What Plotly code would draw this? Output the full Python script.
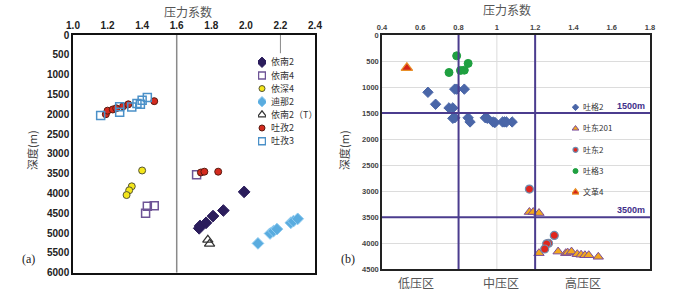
import plotly.graph_objects as go

W, H = 700, 292

# ---------------- Panel (a) data ----------------
yn2_x = [1.73, 1.735, 1.77, 1.81, 1.87, 1.99]
yn2_y = [4880, 4820, 4740, 4570, 4430, 3960]
yn4_x = [1.42, 1.43, 1.47, 1.715]
yn4_y = [4500, 4320, 4310, 3530]
ys4_x = [1.40, 1.34, 1.325, 1.31]
ys4_y = [3420, 3820, 3920, 4040]
dn2_x = [2.07, 2.14, 2.16, 2.18, 2.26, 2.275, 2.30]
dn2_y = [5260, 5010, 4950, 4900, 4740, 4700, 4640]
yn2t_x = [1.78, 1.79]
yn2t_y = [5170, 5270]
tz2_x = [1.19, 1.20, 1.23, 1.25, 1.29, 1.32, 1.47, 1.74, 1.76, 1.84]
tz2_y = [2000, 1910, 1880, 1850, 1800, 1750, 1670, 3470, 3450, 3450]
tz3_x = [1.16, 1.27, 1.27, 1.34, 1.37, 1.39, 1.40, 1.43]
tz3_y = [2030, 1950, 1810, 1820, 1730, 1750, 1650, 1580]

# ---------------- Panel (b) data ----------------
tg2_x = [0.64, 0.68, 0.75, 0.77, 0.78, 0.79, 0.83, 0.77, 0.78, 0.85, 0.86,
         0.94, 0.95, 0.98, 0.99, 1.03, 1.04, 1.05, 1.08]
tg2_y = [1100, 1330, 1400, 1400, 1040, 1040, 1040, 1600, 1590, 1590, 1670,
         1590, 1600, 1670, 1680, 1670, 1670, 1670, 1670]
td201_x = [1.17, 1.19, 1.22, 1.22, 1.32, 1.36, 1.37, 1.39, 1.42, 1.44, 1.46, 1.48, 1.53]
td201_y = [3400, 3400, 3420, 4190, 4160, 4190, 4180, 4160, 4210, 4220, 4230, 4230, 4260]
td2_x = [1.17, 1.30, 1.27, 1.26, 1.25]
td2_y = [2960, 3850, 4000, 4010, 4110]
tg3_x = [0.79, 0.85, 0.75, 0.81, 0.83]
tg3_y = [400, 545, 720, 680, 675]
wg4_x = [0.53]
wg4_y = [630]

# tick labels / reference lines
a_xticks = [1.0, 1.2, 1.4, 1.6, 1.8, 2.0, 2.2, 2.4]
a_yticks = list(range(0, 6001, 500))
b_xticks = [0.4, 0.6, 0.8, 1.0, 1.2, 1.4, 1.6, 1.8]
b_xticklabels = ["0.4", "0.6", "0.8", "1", "1.2", "1.4", "1.6", "1.8"]
b_yticks = list(range(0, 4501, 500))
b_vlines = [0.8, 1.2]
b_hlines = [1500, 3500]
b_hline_labels = ["1500m", "3500m"]
zones = ["低压区", "中压区", "高压区"]
zone_x = [0.58, 1.02, 1.45]

a_names = ["依南2", "依南4", "依深4", "迪那2", "依南2（T）", "吐孜2", "吐孜3"]
b_names = ["吐格2", "吐东201", "吐东2", "吐格3", "文革4"]

# styles
a_styles = [
    dict(symbol="diamond", size=9, color="#2b1d5c", line=dict(color="#2b1d5c", width=1)),
    dict(symbol="square-open", size=8, color="#6e5496", line=dict(width=1.5)),
    dict(symbol="circle", size=7, color="#f4e61a", line=dict(color="#555533", width=1)),
    dict(symbol="diamond", size=9, color="#5aacdf", line=dict(color="#8ccaf0", width=1)),
    dict(symbol="triangle-up-open", size=9, color="#333333", line=dict(width=1.2)),
    dict(symbol="circle", size=7, color="#d42a1e", line=dict(color="#5a1a10", width=1)),
    dict(symbol="square-open", size=8, color="#4a90c8", line=dict(width=1.5)),
]
a_data = [(yn2_x, yn2_y), (yn4_x, yn4_y), (ys4_x, ys4_y), (dn2_x, dn2_y),
          (yn2t_x, yn2t_y), (tz2_x, tz2_y), (tz3_x, tz3_y)]

b_styles = [
    dict(symbol="diamond", size=8, color="#4a66a8", line=dict(color="#4a66a8", width=1)),
    dict(symbol="triangle-up", size=9, color="#f2a81e", line=dict(color="#7a4c9a", width=1)),
    dict(symbol="circle", size=8, color="#e0261e", line=dict(color="#6f8fb0", width=1.2)),
    dict(symbol="circle", size=8, color="#1fa040", line=dict(color="#1fa040", width=1)),
    dict(symbol="triangle-up", size=10, color="#d62418", line=dict(color="#e8902a", width=1.2)),
]
b_data = [(tg2_x, tg2_y), (td201_x, td201_y), (td2_x, td2_y), (tg3_x, tg3_y), (wg4_x, wg4_y)]

fig = go.Figure()

for name, (xs, ys), st in zip(a_names, a_data, a_styles):
    fig.add_trace(go.Scatter(x=xs, y=ys, mode="markers", name=name, marker=st,
                             xaxis="x", yaxis="y", showlegend=False))
for name, (xs, ys), st in zip(b_names, b_data, b_styles):
    fig.add_trace(go.Scatter(x=xs, y=ys, mode="markers", name=name, marker=st,
                             xaxis="x2", yaxis="y2", showlegend=False))

# legend keys drawn on small categorical axes
for name, st in zip(a_names, a_styles):
    st2 = dict(st)
    st2["size"] = st["size"] - 1
    fig.add_trace(go.Scatter(x=[0], y=[name], mode="markers", marker=st2,
                             xaxis="x3", yaxis="y3", showlegend=False, hoverinfo="skip"))
for name, st in zip(b_names, b_styles):
    st2 = dict(st)
    st2["size"] = max(st["size"] - 3, 5)
    fig.add_trace(go.Scatter(x=[0], y=[name], mode="markers", marker=st2,
                             xaxis="x4", yaxis="y4", showlegend=False, hoverinfo="skip"))

def px_x(p):
    return p / W

def px_y(p):
    return 1 - p / H

num_font_a = dict(family="Liberation Sans", size=10, color="#222222", weight="bold")
num_font_b = dict(family="Liberation Sans", size=7.5, color="#444444", weight="bold")
cjk = "Noto Sans CJK SC"

fig.update_layout(
    width=W, height=H,
    margin=dict(l=0, r=0, t=0, b=0, autoexpand=False),
    paper_bgcolor="white", plot_bgcolor="white",
    showlegend=False,
    xaxis=dict(domain=[px_x(73), px_x(315)], range=[1.0, 2.4], side="top",
               tickvals=a_xticks, tickformat=".1f", tickfont=num_font_a,
               showgrid=False, zeroline=False, showline=True, linecolor="#111111",
               linewidth=1.5, mirror=True, ticks="", anchor="y", automargin=False),
    yaxis=dict(domain=[px_y(272.7), px_y(35)], range=[6000, 0],
               tickvals=a_yticks, tickfont=num_font_a,
               showgrid=False, zeroline=False, showline=True, linecolor="#111111",
               linewidth=1.5, mirror=True, ticks="", anchor="x", automargin=False),
    xaxis2=dict(domain=[px_x(382), px_x(650)], range=[0.4, 1.8], side="top",
                tickvals=b_xticks, ticktext=b_xticklabels, tickfont=num_font_b,
                showgrid=False, zeroline=False, showline=True, linecolor="#222222",
                linewidth=1.5, mirror=True, ticks="", anchor="y2", automargin=False),
    yaxis2=dict(domain=[px_y(269.3), px_y(35)], range=[4500, 0],
                tickvals=b_yticks, tickfont=num_font_b,
                showgrid=True, gridcolor="#dcdcdc", gridwidth=1,
                zeroline=False, showline=True, linecolor="#222222",
                linewidth=1.5, mirror=True, ticks="", anchor="x2", automargin=False),
    xaxis3=dict(domain=[px_x(258), px_x(266)], range=[-1, 1], visible=False,
                anchor="y3", automargin=False),
    yaxis3=dict(domain=[px_y(147.7), px_y(55.7)], type="category",
                categoryorder="array", categoryarray=a_names, range=[6.5, -0.5],
                side="right", showgrid=False, zeroline=False, showline=False, ticks="",
                ticklabelstandoff=4,
                tickfont=dict(family=cjk, size=9, color="#333333"), anchor="x3",
                automargin=False),
    xaxis4=dict(domain=[px_x(572), px_x(579)], range=[-1, 1], visible=False,
                anchor="y4", automargin=False),
    yaxis4=dict(domain=[px_y(202.9), px_y(96.7)], type="category",
                categoryorder="array", categoryarray=b_names, range=[4.5, -0.5],
                side="right", showgrid=False, zeroline=False, showline=False, ticks="",
                ticklabelstandoff=3,
                tickfont=dict(family=cjk, size=8, color="#333333"), anchor="x4",
                automargin=False),
)

shapes = []
# panel (a) divider at 1.6 and small tick at 2.2
shapes.append(dict(type="line", xref="x", yref="y", x0=1.6, x1=1.6, y0=0, y1=6000,
                   line=dict(color="#8a8a8a", width=1.5)))
shapes.append(dict(type="line", xref="x", yref="y", x0=2.2, x1=2.2, y0=0, y1=460,
                   line=dict(color="#8a8a8a", width=1)))
# panel (b) faint vertical grid at 1.0
shapes.append(dict(type="line", xref="x2", yref="y2", x0=1.0, x1=1.0, y0=0, y1=4500,
                   line=dict(color="#dcdcdc", width=1), layer="below"))
for v in b_vlines:
    shapes.append(dict(type="line", xref="x2", yref="y2", x0=v, x1=v, y0=0, y1=4500,
                       line=dict(color="#4b3c8e", width=2)))
for hv in b_hlines:
    shapes.append(dict(type="line", xref="x2", yref="y2", x0=0.4, x1=1.8, y0=hv, y1=hv,
                       line=dict(color="#4b3c8e", width=2)))
fig.update_layout(shapes=shapes)


def pann(text, x, y, font, angle=0):
    return dict(text=text, xref="paper", yref="paper", x=px_x(x), y=px_y(y),
                xanchor="center", yanchor="middle", showarrow=False,
                textangle=angle, font=font)


ann = []
ann.append(pann("压力系数", 188, 12, dict(family=cjk, size=12, color="#555555")))
ann.append(pann("压力系数", 507, 9, dict(family=cjk, size=12, color="#555555")))
ann.append(pann("深度(m)", 32, 150, dict(family=cjk, size=11, color="#444444"), -90))
ann.append(pann("深度(m)", 344, 150, dict(family=cjk, size=11, color="#444444"), -90))
ann.append(pann("(a)", 28, 259, dict(family="Liberation Serif", size=12, color="#222222")))
ann.append(pann("(b)", 348, 259, dict(family="Liberation Serif", size=12, color="#222222")))
for lbl, hv in zip(b_hline_labels, b_hlines):
    ann.append(dict(text=lbl, xref="x2", yref="y2", x=1.70, y=hv, xanchor="center",
                    yanchor="bottom", showarrow=False, yshift=0,
                    font=dict(family="Liberation Sans", size=9, color="#3f2f8a", weight="bold")))
for z, zx in zip(zones, zone_x):
    ann.append(dict(text=z, xref="x2", yref="paper", x=zx, y=px_y(282.5),
                    xanchor="center", yanchor="middle", showarrow=False,
                    font=dict(family=cjk, size=12, color="#555555")))
fig.update_layout(annotations=ann)

fig.write_html("out.html",
               config={"displayModeBar": False},
               post_script="document.body.style.margin='0';document.body.style.overflow='hidden';")
